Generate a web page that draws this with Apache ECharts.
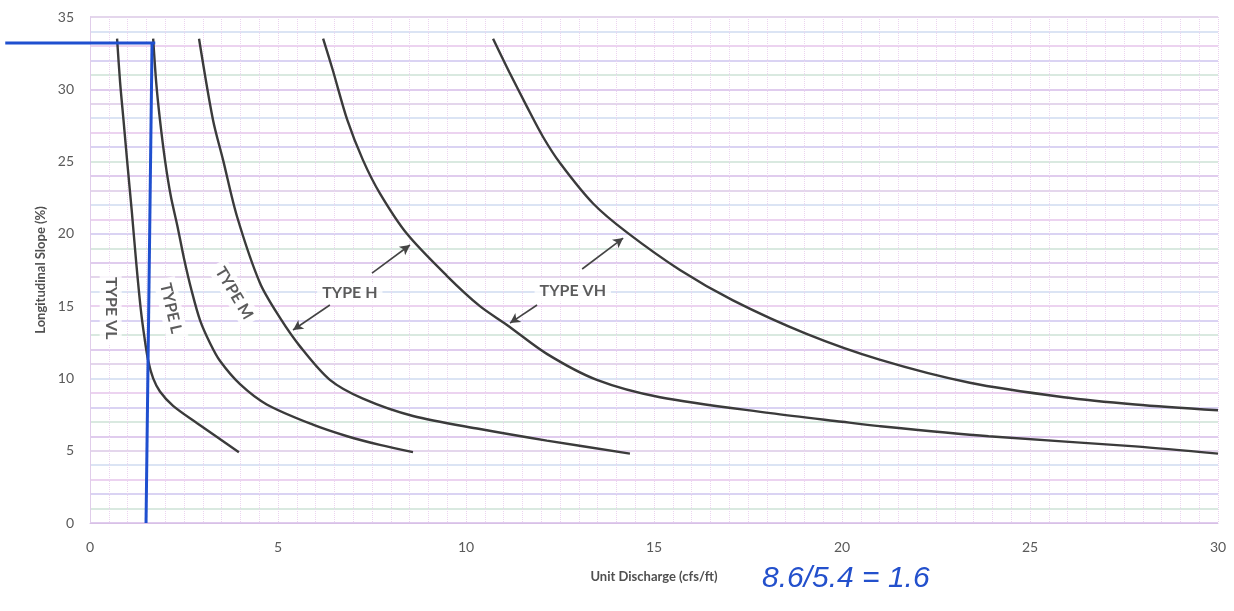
<!DOCTYPE html>
<html><head><meta charset="utf-8">
<script src="https://cdn.jsdelivr.net/npm/echarts@6/dist/echarts.min.js"></script>
<style>html,body{margin:0;padding:0;background:#fff}#c{width:1234px;height:611px}</style>
</head><body><div id="c"></div>
<script>
// Curves [unit discharge, slope]
var curve1 = [[0.72,33.5],[0.80,30.5],[0.89,27.9],[1.0,24.7],[1.11,21.6],[1.23,18.0],[1.35,14.8],[1.45,12.8],[1.55,11.2],[1.68,10.0],[1.86,9.1],[2.21,8.1],[2.85,6.9],[3.96,4.9]];
var curve2 = [[1.68,33.5],[1.76,30.5],[1.86,27.9],[2.0,25.0],[2.15,22.6],[2.32,20.6],[2.5,18.3],[2.7,16.1],[2.93,14.0],[3.2,12.4],[3.46,11.2],[3.99,9.6],[4.7,8.2],[5.93,6.8],[6.84,6.0],[7.71,5.4],[8.59,4.9]];
var curve3 = [[2.9,33.5],[3.27,27.9],[3.54,25.1],[3.91,21.2],[4.52,16.6],[5.05,14.2],[5.59,12.2],[6.38,9.9],[7.26,8.6],[8.59,7.4],[10.37,6.5],[12.15,5.7],[14.36,4.8]];
var curve4 = [[6.2,33.5],[6.46,31.3],[6.84,27.9],[7.26,25.1],[7.71,22.8],[8.43,20.0],[9.49,17.1],[10.37,15.0],[11.09,13.7],[12.15,11.7],[13.48,9.9],[15.16,8.7],[18.1,7.6],[20.0,7.0],[21.0,6.7],[23.9,6.0],[27.8,5.3],[30.0,4.8]];
var curve5 = [[10.72,33.5],[11.15,31.2],[11.62,28.8],[12.05,26.7],[12.5,24.9],[13.38,22.1],[14.28,20.1],[15.69,17.5],[17.1,15.4],[19.04,13.1],[21.0,11.3],[23.4,9.7],[25.9,8.7],[27.8,8.2],[30.0,7.8]];
// Hand-drawn blue lines
var blueVertical = [[1.49,0],[1.65,33.2]];
var blueHorizontal = [[-2.26,33.2],[1.73,33.2]];
// Region labels [x, y, text, rotation]
var typeLabels = [[0.55,14.85,'TYPE VL',-90],[2.15,14.85,'TYPE L',-77],[3.83,15.9,'TYPE M',-59],[6.91,15.9,'TYPE H',0],[12.84,16.07,'TYPE VH',0]];
// Arrows [fromX, fromY, toX, toY]
var arrows = [[6.38,15.08,5.40,13.35],[7.50,17.29,8.51,19.23],[11.89,15.08,11.17,13.83],[13.09,17.57,14.18,19.71]];
var xTicks = [0,5,10,15,20,25,30];
var yTicks = [0,5,10,15,20,25,30,35];

var chart = echarts.init(document.getElementById('c'));
var curveColor = '#3b3b3b';
function curveSeries(d){
  return {type:'line',data:d,showSymbol:false,smooth:0.3,
    lineStyle:{color:curveColor,width:2.4},z:5,silent:true};
}
var hColors = ['rgba(190,150,220,0.65)','rgba(170,205,185,0.6)','rgba(180,165,230,0.65)','rgba(215,165,225,0.65)','rgba(175,195,230,0.6)','rgba(200,170,215,0.65)'];
var option = {
  animation:false,
  grid:[{left:90,right:16,top:17,bottom:88},{left:0,right:16,top:17,bottom:88}],
  xAxis:[{type:'value',gridIndex:0,min:0,max:30,interval:5,
    name:'Unit Discharge (cfs/ft)',nameLocation:'middle',nameGap:47,
    nameTextStyle:{fontFamily:'Lato',fontWeight:'bold',fontSize:13,color:'#505050'},
    axisLine:{show:true,lineStyle:{color:'#d8c0e6',width:1}},
    axisTick:{show:false},
    axisLabel:{margin:17,fontFamily:'Lato',fontSize:14,color:'#5a5a5a',
      formatter:function(v){return xTicks.indexOf(v)>=0?String(v):'';}},
    splitLine:{show:true,lineStyle:{color:'#ead2ee',width:1,type:'dotted'}},
    minorTick:{show:false,splitNumber:10},
    minorSplitLine:{show:true,lineStyle:{color:'#ecd4f0',width:1,type:'dotted'}}
  },{type:'value',gridIndex:1,min:-2.4,max:30,show:false}],
  yAxis:[{type:'value',gridIndex:0,min:0,max:35,interval:1,
    name:'Longitudinal Slope (%)',nameLocation:'middle',nameGap:41,
    nameTextStyle:{fontFamily:'Lato',fontWeight:'bold',fontSize:13,color:'#505050'},
    axisLine:{show:true,lineStyle:{color:'#e0cdea',width:1}},
    axisTick:{show:false},
    axisLabel:{margin:16,fontFamily:'Lato',fontSize:14,color:'#5a5a5a',
      formatter:function(v){return yTicks.indexOf(v)>=0?String(v):'';}},
    splitLine:{show:true,lineStyle:{color:hColors,width:1.5}}
  },{type:'value',gridIndex:1,min:0,max:35,show:false}],
  series:[
    curveSeries(curve1),curveSeries(curve2),curveSeries(curve3),curveSeries(curve4),curveSeries(curve5),
    {type:'scatter',symbolSize:0,z:4,silent:true,
      data:typeLabels.map(function(t){return {value:[t[0],t[1]],
        label:{show:true,position:'inside',formatter:t[2],rotate:t[3],
          fontFamily:'Lato',fontWeight:'bold',fontSize:16,color:'#333',
          backgroundColor:'#fff',padding:[3,5]}};})
    },
    {type:'line',data:[],silent:true,
      markLine:{silent:true,symbol:['none','arrow'],symbolSize:[8,10],animation:false,
        label:{show:false},lineStyle:{color:'#444',width:1.6,type:'solid'},
        data:arrows.map(function(a){return [{coord:[a[0],a[1]]},{coord:[a[2],a[3]]}];})}
    },
    {type:'line',data:blueVertical,showSymbol:false,z:6,silent:true,
      lineStyle:{color:'#1f4fcf',width:3}},
    {type:'line',xAxisIndex:1,yAxisIndex:1,data:blueHorizontal,showSymbol:false,clip:false,z:6,silent:true,
      lineStyle:{color:'#1f4fcf',width:3}}
  ],
  graphic:[{type:'text',left:762,top:564,
    style:{text:'8.6/5.4 = 1.6',font:'italic 30px "Liberation Sans Narrow", "Liberation Sans", sans-serif',fill:'#2350cc'}}]
};
chart.setOption(option);
</script></body></html>
